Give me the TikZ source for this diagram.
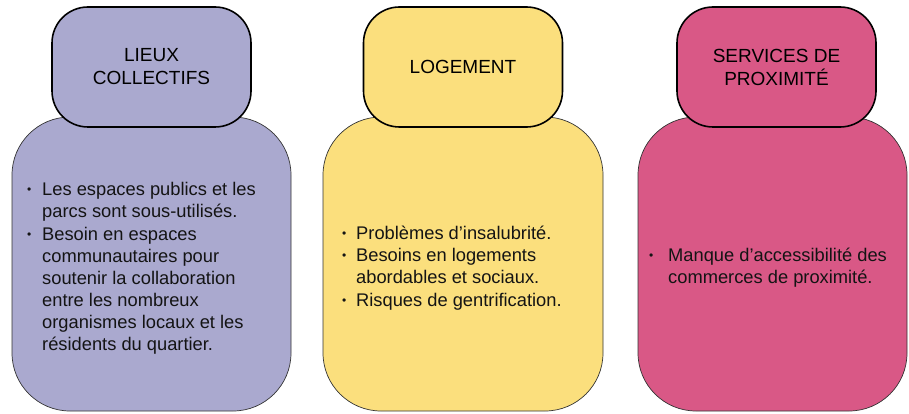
\documentclass[tikz,border=0pt]{standalone}
\usepackage{fontspec}
\setmainfont{Liberation Sans}
\definecolor{lav}{HTML}{AAA9CF}
\definecolor{yel}{HTML}{FBDF7D}
\definecolor{pnk}{HTML}{D95886}
\definecolor{txt}{HTML}{141414}
\newcommand\itm[2]{\makebox[#1][l]{\raisebox{2pt}{\fontsize{12}{12}\selectfont\textbullet}}\begin{tabular}[t]{@{}l@{}}#2\end{tabular}}
\tikzset{
  bodybox/.style={draw=black!80, line width=0.7pt, rounded corners=58pt, inner sep=0pt},
  headbox/.style={draw=black, line width=1.6pt, rounded corners=36pt, inner sep=0pt,
    minimum width=199pt, minimum height=120pt, align=center,
    font=\fontsize{19}{23}\selectfont, text=black},
  listtext/.style={anchor=west, inner sep=0pt, align=left, text=txt,
    font=\fontsize{18.3}{22}\selectfont}
}
\begin{document}
\begin{tikzpicture}[x=1pt,y=-1pt]
\useasboundingbox (0,0) rectangle (909,414);
% bodies
\node[bodybox, fill=lav, minimum width=279pt, minimum height=294pt] (b1) at (151.5,264) {};
\node[bodybox, fill=yel, minimum width=280pt, minimum height=294pt] (b2) at (463,264) {};
\node[bodybox, fill=pnk, minimum width=269pt, minimum height=294pt] (b3) at (772.5,264) {};
% headers
\node[headbox, fill=lav] (h1) at (151.5,67) {LIEUX\\COLLECTIFS};
\node[headbox, fill=yel] (h2) at (463,67) {LOGEMENT};
\node[headbox, fill=pnk] (h3) at (776.5,67) {SERVICES DE\\PROXIMITÉ};
% texts
\node[listtext] (t1) at (27,268.5) {%
\itm{15pt}{Les espaces publics et les\\parcs sont sous-utilisés.}\\
\itm{15pt}{Besoin en espaces\\communautaires pour\\soutenir la collaboration\\entre les nombreux\\organismes locaux et les\\résidents du quartier.}};
\node[listtext] (t2) at (342,268.5) {%
\itm{14pt}{Problèmes d’insalubrité.}\\
\itm{14pt}{Besoins en logements\\abordables et sociaux.}\\
\itm{14pt}{Risques de gentrification.}};
\node[listtext] (t3) at (649,268.5) {%
\itm{19pt}{Manque d’accessibilité des\\commerces de proximité.}};
\end{tikzpicture}
\end{document}
